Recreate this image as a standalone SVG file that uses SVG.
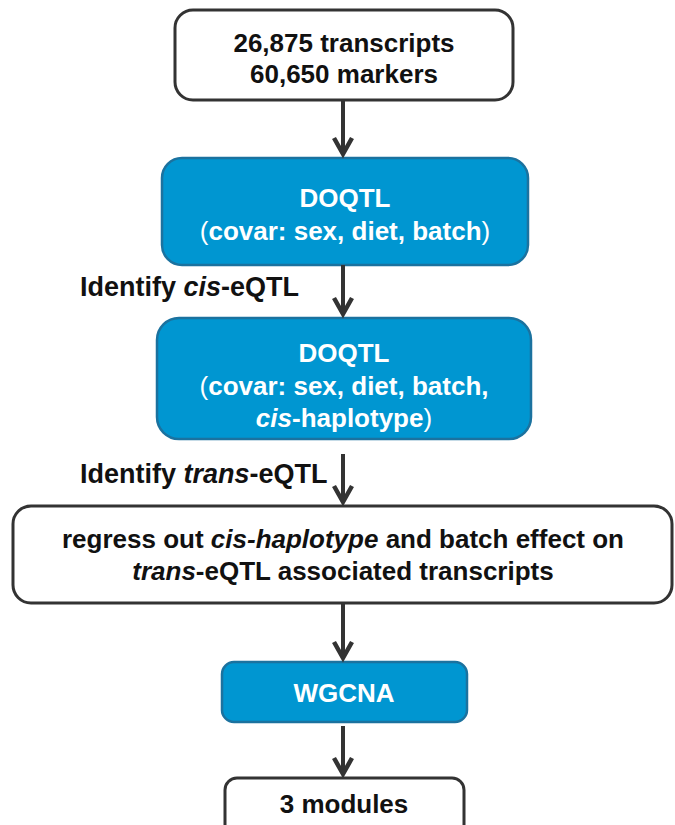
<svg xmlns="http://www.w3.org/2000/svg" width="675" height="825" viewBox="0 0 675 825">
<style>
.wbox{fill:#fff;stroke:#333;stroke-width:3}
.bbox{fill:#0096d1;stroke:#1b729f;stroke-width:2.5}
.t{font-family:"Liberation Sans",Arial,sans-serif;font-weight:bold;font-size:26px;text-anchor:middle;fill:#111}
.tw{font-family:"Liberation Sans",Arial,sans-serif;font-weight:bold;font-size:26px;text-anchor:middle;fill:#fff}
.lab{font-family:"Liberation Sans",Arial,sans-serif;font-weight:bold;font-size:27px;fill:#111}
.p{font-weight:normal}
.conn line{stroke:#333;stroke-width:4}
</style>
<defs>
<marker id="ah" markerUnits="userSpaceOnUse" markerWidth="26" markerHeight="26" viewBox="-22 -13 26 26" refX="0" refY="0" orient="auto">
<path d="M-17,-9 L-1,0 L-17,9" fill="none" stroke="#333" stroke-width="4.5" stroke-linejoin="miter"/>
</marker>
</defs>
<g id="n1">
<rect class="wbox" x="175" y="10" width="338" height="90" rx="18"/>
<text class="t" x="344" y="52">26,875 transcripts</text>
<text class="t" x="344" y="83">60,650 markers</text>
</g>
<g id="n2">
<rect class="bbox" x="162" y="158" width="366" height="107" rx="20"/>
<text class="tw" x="345" y="207">DOQTL</text>
<text class="tw" x="345" y="240"><tspan class="p">(</tspan>covar: sex, diet, batch<tspan class="p">)</tspan></text>
</g>
<g id="n3">
<rect class="bbox" x="157" y="318" width="374" height="121" rx="22"/>
<text class="tw" x="344" y="362">DOQTL</text>
<text class="tw" x="344" y="395"><tspan class="p">(</tspan>covar: sex, diet, batch,</text>
<text class="tw" x="344" y="427"><tspan font-style="italic">cis</tspan>-haplotype<tspan class="p">)</tspan></text>
</g>
<g id="lab1"><text class="lab" x="80" y="296">Identify <tspan font-style="italic">cis</tspan>-eQTL</text></g>
<g id="lab2"><text class="lab" x="80" y="483">Identify <tspan font-style="italic">trans</tspan>-eQTL</text></g>
<g id="n4">
<rect class="wbox" x="13" y="506" width="659" height="97" rx="18"/>
<text class="t" x="343" y="548" font-size="26.5">regress out <tspan font-style="italic">cis-haplotype</tspan> and batch effect on</text>
<text class="t" x="343" y="580" font-size="26.5"><tspan font-style="italic">trans</tspan>-eQTL associated transcripts</text>
</g>
<g id="n5">
<rect class="bbox" x="222" y="662" width="245" height="60" rx="12"/>
<text class="tw" x="344" y="702">WGCNA</text>
</g>
<g id="n6">
<rect class="wbox" x="225" y="778" width="239" height="60" rx="12"/>
<text class="t" x="344" y="813">3 modules</text>
</g>
<g class="conn" id="connectors">
<line x1="343" y1="100" x2="343" y2="155" marker-end="url(#ah)"/>
<line x1="343" y1="265" x2="343" y2="315" marker-end="url(#ah)"/>
<line x1="343" y1="454" x2="343" y2="503" marker-end="url(#ah)"/>
<line x1="343" y1="603" x2="343" y2="659" marker-end="url(#ah)"/>
<line x1="343" y1="726" x2="343" y2="775" marker-end="url(#ah)"/>
</g>
</svg>
